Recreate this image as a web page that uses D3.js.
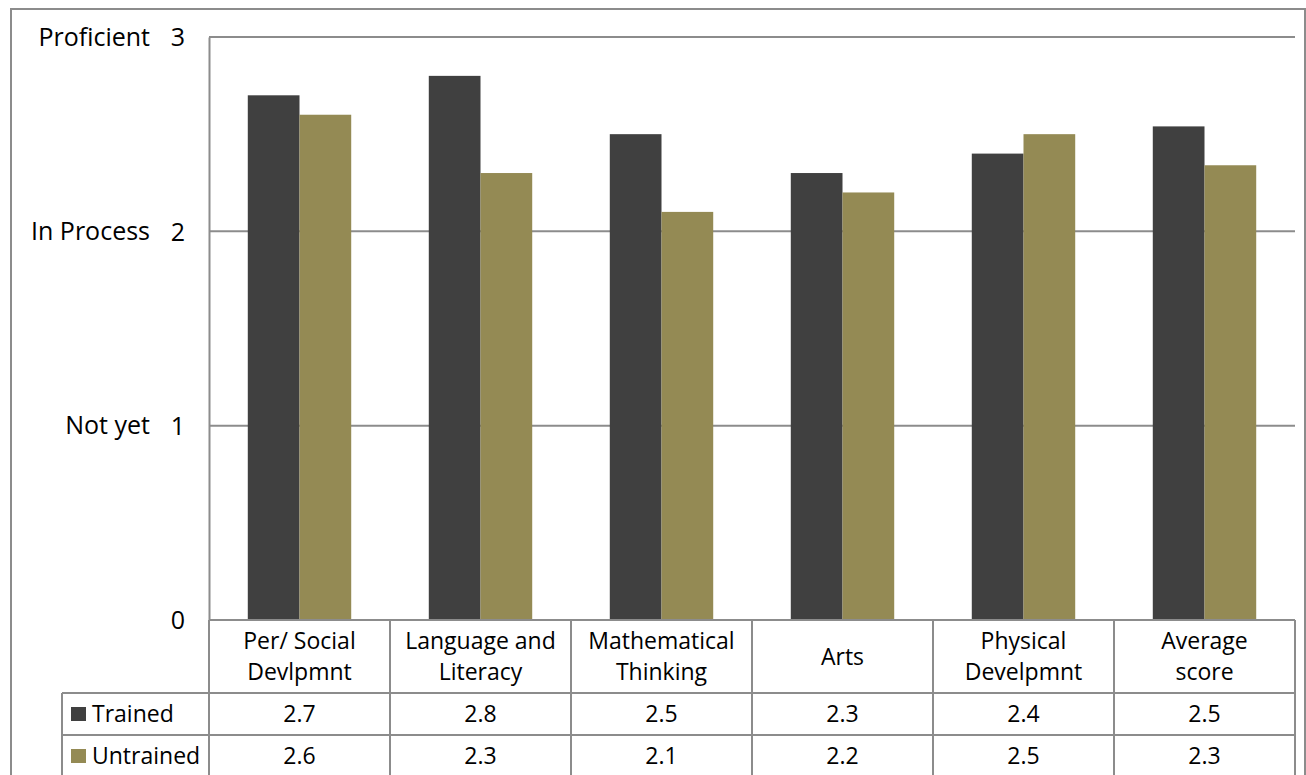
<!DOCTYPE html>
<html>
<head>
<meta charset="utf-8">
<script src="https://cdn.jsdelivr.net/npm/d3@7"></script>
<style>
  html, body { margin: 0; padding: 0; background: #fff; }
  svg text { font-family: "Open Sans", sans-serif; fill: #000; }
</style>
</head>
<body>
<svg id="chart" width="1306" height="775"></svg>
<script>
// Domain scores (0 = not yet, 3 = proficient)
const categories = [
  ["Per/ Social", "Devlpmnt"],
  ["Language and", "Literacy"],
  ["Mathematical", "Thinking"],
  ["Arts"],
  ["Physical", "Develpmnt"],
  ["Average", "score"]
];
const series = ["Trained", "Untrained"];
const trained = [2.7, 2.8, 2.5, 2.3, 2.4, 2.54];
const untrained = [2.6, 2.3, 2.1, 2.2, 2.5, 2.34];
const yTicks = [0, 1, 2, 3];
const yLevelNames = { 1: "Not yet", 2: "In Process", 3: "Proficient" };
const colors = { Trained: "#404040", Untrained: "#948a54" };

const values = { Trained: trained, Untrained: untrained };
const catKeys = categories.map(c => c.join(" "));

const svg = d3.select("#chart");
const gridColor = "#8c8c8c";
const axisFont = 25;
const tableFont = 23;

const plot = { left: 209, right: 1295, top: 37, bottom: 620 };
const rowH = [73, 42, 42];         // category row, then one row per series
const legendLeft = 62;

// outer chart frame
svg.append("rect")
  .attr("x", 11).attr("y", 9)
  .attr("width", 1294).attr("height", 800)
  .attr("fill", "none").attr("stroke", gridColor).attr("stroke-width", 2);

const x = d3.scaleBand().domain(catKeys).range([plot.left, plot.right]).padding(0);
const xs = d3.scaleBand().domain(series).range([0, x.bandwidth()])
  .paddingInner(0).paddingOuter(0.75);
const y = d3.scaleLinear().domain([0, 3]).range([plot.bottom, plot.top]);

// horizontal gridlines
svg.append("g")
  .selectAll("line")
  .data(yTicks.filter(t => t > 0))
  .join("line")
  .attr("x1", plot.left).attr("x2", plot.right)
  .attr("y1", d => y(d)).attr("y2", d => y(d))
  .attr("stroke", gridColor).attr("stroke-width", 2);

// bars
const groups = svg.append("g")
  .selectAll("g")
  .data(catKeys)
  .join("g")
  .attr("transform", d => `translate(${x(d)},0)`);

groups.selectAll("rect")
  .data((d, i) => series.map(s => ({ s, v: values[s][i] })))
  .join("rect")
  .attr("x", d => xs(d.s))
  .attr("width", xs.bandwidth())
  .attr("y", d => y(d.v))
  .attr("height", d => y(0) - y(d.v))
  .attr("fill", d => colors[d.s]);

// y axis
const yAxis = d3.axisLeft(y).tickValues(yTicks).tickSize(0).tickPadding(24)
  .tickFormat(d3.format("d"));
const ya = svg.append("g")
  .attr("transform", `translate(${plot.left},0)`)
  .call(yAxis);
ya.select(".domain").attr("stroke", gridColor).attr("stroke-width", 2);
ya.selectAll(".tick text")
  .attr("font-size", axisFont)
  .attr("font-family", "Open Sans, sans-serif")
  .attr("fill", "#000")
  .attr("dy", "0.35em");

// level names next to the tick numbers
svg.append("g")
  .selectAll("text")
  .data(yTicks.filter(t => yLevelNames[t]))
  .join("text")
  .attr("x", 150)
  .attr("y", d => y(d))
  .attr("dy", "0.35em")
  .attr("text-anchor", "end")
  .attr("font-size", axisFont)
  .text(d => yLevelNames[d]);

// data table
const table = svg.append("g");
const rowTop = [plot.bottom];
rowH.forEach((h, i) => rowTop.push(rowTop[i] + h));

// x axis line (top of table)
table.append("line")
  .attr("x1", plot.left).attr("x2", plot.right)
  .attr("y1", plot.bottom).attr("y2", plot.bottom)
  .attr("stroke", gridColor).attr("stroke-width", 2);

// horizontal row lines
table.selectAll("line.row")
  .data(rowTop.slice(1))
  .join("line")
  .attr("class", "row")
  .attr("x1", legendLeft).attr("x2", plot.right)
  .attr("y1", d => d).attr("y2", d => d)
  .attr("stroke", gridColor).attr("stroke-width", 2);

// vertical column lines
const colEdges = catKeys.map(k => x(k)).concat([plot.right]);
table.selectAll("line.col")
  .data(colEdges)
  .join("line")
  .attr("class", "col")
  .attr("x1", d => d).attr("x2", d => d)
  .attr("y1", plot.bottom).attr("y2", 800)
  .attr("stroke", gridColor).attr("stroke-width", 2);

// legend column left edge
table.append("line")
  .attr("x1", legendLeft).attr("x2", legendLeft)
  .attr("y1", rowTop[1]).attr("y2", 800)
  .attr("stroke", gridColor).attr("stroke-width", 2);

// category labels
const catCenterY = (rowTop[0] + rowTop[1]) / 2;
table.selectAll("text.cat")
  .data(categories)
  .join("text")
  .attr("class", "cat")
  .attr("text-anchor", "middle")
  .attr("font-size", tableFont)
  .each(function (lines, i) {
    const t = d3.select(this);
    const cx = x(catKeys[i]) + x.bandwidth() / 2;
    const lh = 31;
    lines.forEach((ln, j) => {
      t.append("tspan")
        .attr("x", cx)
        .attr("y", catCenterY + (j - (lines.length - 1) / 2) * lh)
        .attr("dy", "0.35em")
        .text(ln);
    });
  });

// series rows: legend key, name, values
const fmt = d3.format(".1f");
series.forEach((s, r) => {
  const cy = (rowTop[r + 1] + rowTop[r + 2]) / 2;
  table.append("rect")
    .attr("x", 71).attr("y", cy - 7)
    .attr("width", 15).attr("height", 14)
    .attr("fill", colors[s]);
  table.append("text")
    .attr("x", 92).attr("y", cy).attr("dy", "0.35em")
    .attr("font-size", tableFont)
    .text(s);
  table.selectAll(null)
    .data(values[s])
    .join("text")
    .attr("x", (d, i) => x(catKeys[i]) + x.bandwidth() / 2)
    .attr("y", cy).attr("dy", "0.35em")
    .attr("text-anchor", "middle")
    .attr("font-size", tableFont)
    .text(d => fmt(d));
});
</script>
</body>
</html>
